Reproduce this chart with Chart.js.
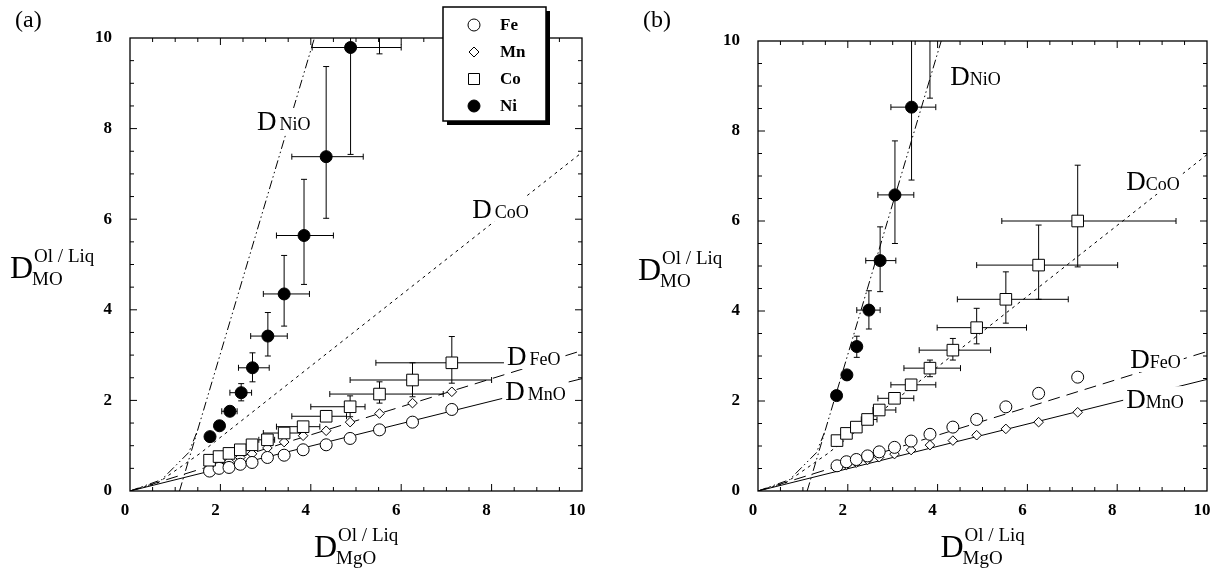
<!DOCTYPE html>
<html>
<head>
<meta charset="utf-8">
<script src="https://cdn.jsdelivr.net/npm/chart.js"></script>
<style>
  body { margin: 0; background: #fff; width: 1217px; height: 576px; position: relative; overflow: hidden; }
  canvas { position: absolute; top: 0; }
  #chartA { left: 0; }
  #chartB { left: 608px; }
</style>
</head>
<body>
<canvas id="chartA" width="608" height="576"></canvas>
<canvas id="chartB" width="622" height="576"></canvas>
<script>
// D(MgO) values shared by the Fe, Mn and Co series in both panels
const xMgO = [1.76, 1.97, 2.19, 2.44, 2.70, 3.04, 3.41, 3.83, 4.34, 4.87, 5.52, 6.25, 7.12];

// panel (a)
const feA = [0.44, 0.50, 0.52, 0.59, 0.63, 0.74, 0.79, 0.91, 1.02, 1.16, 1.35, 1.52, 1.80];
const mnA = [0.55, 0.60, 0.65, 0.74, 0.82, 0.95, 1.08, 1.22, 1.33, 1.52, 1.71, 1.94, 2.19];
const coA = [0.68, 0.76, 0.83, 0.91, 1.02, 1.13, 1.28, 1.42, 1.65, 1.86, 2.14, 2.45, 2.83];
const coAxLo = [null, null, null, null, null, 2.85, 2.95, 3.24, 3.58, 4.00, 4.42, 4.87, 5.44];
const coAxHi = [null, null, null, null, null, 3.20, 3.76, 4.20, 4.79, 5.20, 6.93, 8.00, 8.35];
const coAyLo = [null, null, null, null, null, null, null, null, null, 1.64, 1.94, 2.08, 2.38];
const coAyHi = [null, null, null, null, null, null, null, null, null, 2.10, 2.41, 2.83, 3.41];
const niAx = [1.77, 1.98, 2.21, 2.46, 2.71, 3.05, 3.41, 3.85, 4.34, 4.88, 5.52];
const niA = [1.20, 1.44, 1.76, 2.17, 2.72, 3.42, 4.35, 5.64, 7.38, 9.79, 10.9];
const niAxLo = [null, null, 2.03, 2.21, 2.40, 2.67, 2.95, 3.24, 3.58, 4.03, null];
const niAxHi = [null, null, 2.37, 2.69, 3.08, 3.48, 3.97, 4.50, 5.16, 6.00, null];
const niAyLo = [null, null, null, 1.99, 2.41, 2.98, 3.64, 4.56, 6.02, 7.43, 9.65];
const niAyHi = [null, null, null, 2.37, 3.05, 3.94, 5.20, 6.88, 9.37, 10.3, 12.0];

// panel (b)
const feB = [0.56, 0.65, 0.70, 0.78, 0.87, 0.97, 1.11, 1.26, 1.42, 1.59, 1.87, 2.17, 2.53];
const mnB = [0.53, 0.58, 0.63, 0.69, 0.75, 0.82, 0.91, 1.02, 1.12, 1.24, 1.38, 1.53, 1.75];
const coB = [1.12, 1.28, 1.42, 1.59, 1.80, 2.06, 2.36, 2.73, 3.13, 3.63, 4.26, 5.02, 6.00];
const coBxLo = [null, null, null, 2.30, 2.56, 2.67, 2.96, 3.25, 3.59, 3.99, 4.44, 4.87, 5.43];
const coBxHi = [null, null, null, 2.65, 3.07, 3.47, 3.96, 4.51, 5.18, 5.98, 6.91, 8.01, 9.31];
const coByLo = [null, null, null, null, null, null, null, 2.54, 2.91, 3.27, 3.73, 4.26, 4.98];
const coByHi = [null, null, null, null, null, null, null, 2.91, 3.39, 4.06, 4.87, 5.91, 7.24];
const niBx = [1.75, 1.98, 2.20, 2.47, 2.72, 3.05, 3.42, 3.83];
const niB = [2.12, 2.58, 3.21, 4.02, 5.12, 6.58, 8.53, 10.9];
const niBxLo = [null, null, null, 2.20, 2.40, 2.67, 2.96, null];
const niBxHi = [null, null, null, 2.72, 3.07, 3.47, 3.96, null];
const niByLo = [null, null, 2.97, 3.60, 4.43, 5.50, 6.91, 8.73];
const niByHi = [null, null, 3.44, 4.45, 5.87, 7.78, 10.5, 12.0];

// partition lines (same in both panels)
const niOx = [1.095, 4.08];
const niOy = [0, 10];
const niOlowX = [0, 0.7, 1.3, 1.5];
const niOlowY = [0, 0.25, 0.85, 1.35];
const coOx = [0, 0.6, 1.55, 10];
const coOy = [0, 0.17, 0.83, 7.475];
const feOx = [0, 10];
const feOy = [0, 3.1];
const mnOx = [0, 10];
const mnOy = [0, 2.48];

// line labels
const labelNames = ['NiO', 'CoO', 'FeO', 'MnO'];
const labelAx = [2.81, 7.57, 8.34, 8.30];
const labelAy = [7.97, 6.03, 2.78, 2.01];
const labelBx = [4.28, 8.20, 8.29, 8.20];
const labelBy = [9.02, 6.69, 2.73, 1.84];

// legend
const legendNames = ['Fe', 'Mn', 'Co', 'Ni'];
const tickValues = [0, 2, 4, 6, 8, 10];

const SERIF = '"Liberation Serif", "Times New Roman", serif';

const pts = (xs, ys) => xs.map((x, i) => ({ x: x, y: ys[i] }));

function lineSet(xs, ys, dash) {
  return {
    data: pts(xs, ys), showLine: true, pointRadius: 0, borderColor: '#000',
    borderWidth: 1, borderDash: dash, fill: false, tension: 0, order: 10
  };
}

function markSet(xs, ys, style, r, fill, ord, err) {
  return {
    data: pts(xs, ys), pointStyle: style, pointRadius: r,
    pointBackgroundColor: fill, pointBorderColor: '#000', pointBorderWidth: 1,
    order: ord, errorBars: err
  };
}

// error bars drawn under the markers
const errorBars = {
  id: 'errorBars',
  beforeDatasetsDraw(chart) {
    const { ctx, chartArea: a, scales: { x, y } } = chart;
    ctx.save();
    ctx.beginPath();
    ctx.rect(a.left, a.top, a.right - a.left, a.bottom - a.top);
    ctx.clip();
    ctx.strokeStyle = '#000';
    ctx.lineWidth = 1;
    chart.data.datasets.forEach(ds => {
      const e = ds.errorBars;
      if (!e) return;
      ds.data.forEach((p, i) => {
        const px = x.getPixelForValue(p.x), py = y.getPixelForValue(p.y);
        ctx.beginPath();
        if (e.xLo[i] != null) {
          const l = x.getPixelForValue(e.xLo[i]), r = x.getPixelForValue(e.xHi[i]);
          ctx.moveTo(l, py); ctx.lineTo(r, py);
          ctx.moveTo(l, py - 3); ctx.lineTo(l, py + 3);
          ctx.moveTo(r, py - 3); ctx.lineTo(r, py + 3);
        }
        if (e.yLo[i] != null) {
          const b = y.getPixelForValue(e.yLo[i]), t = y.getPixelForValue(e.yHi[i]);
          ctx.moveTo(px, b); ctx.lineTo(px, t);
          ctx.moveTo(px - 3, b); ctx.lineTo(px + 3, b);
          ctx.moveTo(px - 3, t); ctx.lineTo(px + 3, t);
        }
        ctx.stroke();
      });
    });
    ctx.restore();
  }
};

// box with inward ticks on all four sides
const frame = {
  id: 'frame',
  afterDraw(chart) {
    const { ctx, chartArea: a, scales: { x, y } } = chart;
    ctx.save();
    ctx.strokeStyle = '#000';
    ctx.lineWidth = 1.3;
    ctx.strokeRect(a.left, a.top, a.right - a.left, a.bottom - a.top);
    ctx.lineWidth = 1;
    ctx.beginPath();
    for (let v = 0.5; v < 10; v += 0.5) {
      const len = v % 2 === 0 ? 7 : 4;
      const px = x.getPixelForValue(v), py = y.getPixelForValue(v);
      ctx.moveTo(px, a.bottom); ctx.lineTo(px, a.bottom - len);
      ctx.moveTo(px, a.top); ctx.lineTo(px, a.top + len);
      ctx.moveTo(a.left, py); ctx.lineTo(a.left + len, py);
      ctx.moveTo(a.right, py); ctx.lineTo(a.right - len, py);
    }
    ctx.stroke();
    ctx.restore();
  }
};

function drawD(ctx, x, base, sub) {
  ctx.font = '32px ' + SERIF;
  ctx.fillText('D', x, base);
  const w = ctx.measureText('D').width;
  ctx.font = '19px ' + SERIF;
  ctx.fillText('Ol / Liq', x + w + 1, base - 16);
  ctx.fillText(sub, x + w - 1, base + 7);
}

function titles(letter) {
  return {
    id: 'titles',
    afterDraw(chart) {
      const { ctx, chartArea: a } = chart;
      ctx.save();
      ctx.fillStyle = '#000';
      ctx.textBaseline = 'alphabetic';
      ctx.font = '24px ' + SERIF;
      ctx.fillText(letter, a.left - 115, 27);
      drawD(ctx, a.left - 120, (a.top + a.bottom) / 2 + 13.5, 'MO');
      drawD(ctx, (a.left + a.right) / 2 - 42, 557, 'MgO');
      ctx.restore();
    }
  };
}

function lineLabels(xs, ys, gap) {
  return {
    id: 'lineLabels',
    afterDatasetsDraw(chart) {
      const { ctx, scales: { x, y } } = chart;
      ctx.save();
      ctx.textBaseline = 'alphabetic';
      xs.forEach((lx, i) => {
        const px = x.getPixelForValue(lx), py = y.getPixelForValue(ys[i]);
        ctx.font = '27px ' + SERIF;
        const dw = ctx.measureText('D').width;
        ctx.font = '18px ' + SERIF;
        const sw = ctx.measureText(labelNames[i]).width;
        ctx.fillStyle = '#fff';
        ctx.fillRect(px - 3, py - 22, dw + gap + sw + 6, 26);
        ctx.fillStyle = '#000';
        ctx.font = '27px ' + SERIF;
        ctx.fillText('D', px, py);
        ctx.font = '18px ' + SERIF;
        ctx.fillText(labelNames[i], px + dw + gap, py);
      });
      ctx.restore();
    }
  };
}

const legendBox = {
  id: 'legendBox',
  afterDraw(chart) {
    const { ctx, chartArea: a } = chart;
    const bx = a.left + 313, by = 7, bw = 103, bh = 114;
    ctx.save();
    ctx.fillStyle = '#000';
    ctx.fillRect(bx + 4, by + 4, bw, bh);
    ctx.fillStyle = '#fff';
    ctx.fillRect(bx, by, bw, bh);
    ctx.strokeStyle = '#000';
    ctx.lineWidth = 1.5;
    ctx.strokeRect(bx, by, bw, bh);
    ctx.lineWidth = 1;
    legendNames.forEach((name, i) => {
      const cx = bx + 31, cy = by + 18 + i * 27;
      ctx.beginPath();
      if (i === 0) ctx.arc(cx, cy, 6, 0, Math.PI * 2);
      if (i === 1) { ctx.moveTo(cx, cy - 5); ctx.lineTo(cx + 5, cy); ctx.lineTo(cx, cy + 5); ctx.lineTo(cx - 5, cy); ctx.closePath(); }
      if (i === 2) ctx.rect(cx - 5.5, cy - 5.5, 11, 11);
      if (i === 3) ctx.arc(cx, cy, 6, 0, Math.PI * 2);
      ctx.fillStyle = i === 3 ? '#000' : '#fff';
      ctx.fill();
      ctx.stroke();
      ctx.fillStyle = '#000';
      ctx.font = 'bold 17px ' + SERIF;
      ctx.textBaseline = 'middle';
      ctx.fillText(name, bx + 57, cy + 1);
    });
    ctx.restore();
  }
};

function panel(id, d, yWidth, padRight, extra) {
  const tickFont = { family: SERIF, size: 17, weight: 'bold' };
  return new Chart(document.getElementById(id), {
    type: 'scatter',
    data: {
      datasets: [
        lineSet(niOx, niOy, [9, 3, 1.5, 3, 1.5, 3]),
        lineSet(niOlowX, niOlowY, [9, 3, 1.5, 3, 1.5, 3]),
        lineSet(coOx, coOy, [3, 4]),
        lineSet(feOx, feOy, [12, 7]),
        lineSet(mnOx, mnOy, []),
        markSet(xMgO, d.mn, 'rectRot', 4.8, '#fff', 4, null),
        markSet(xMgO, d.fe, 'circle', 6, '#fff', 3, null),
        markSet(xMgO, d.co, 'rect', 8.2, '#fff', 2, d.coErr),
        markSet(d.niX, d.ni, 'circle', 6, '#000', 1, d.niErr)
      ]
    },
    options: {
      responsive: false,
      animation: false,
      events: [],
      layout: { padding: { left: 0, right: padRight, top: 576 - 535 + (d.top - 41), bottom: 40 } },
      plugins: { legend: { display: false }, tooltip: { enabled: false } },
      scales: {
        x: {
          type: 'linear', min: 0, max: 10,
          afterFit: s => { s.height = 45; },
          grid: { display: false, drawTicks: false },
          border: { display: false },
          ticks: {
            stepSize: 2, padding: 9, labelOffset: -5, color: '#000', font: tickFont,
            maxRotation: 0, autoSkip: false
          },
          afterBuildTicks: s => { s.ticks = tickValues.map(v => ({ value: v })); }
        },
        y: {
          type: 'linear', min: 0, max: 10,
          afterFit: s => { s.width = yWidth; },
          grid: { display: false, drawTicks: false },
          border: { display: false },
          ticks: { stepSize: 2, padding: 18, color: '#000', font: tickFont },
          afterBuildTicks: s => { s.ticks = tickValues.map(v => ({ value: v })); }
        }
      }
    },
    plugins: [errorBars, frame].concat(extra)
  });
}

panel('chartA', {
  top: 38,
  fe: feA, mn: mnA, co: coA, niX: niAx, ni: niA,
  coErr: { xLo: coAxLo, xHi: coAxHi, yLo: coAyLo, yHi: coAyHi },
  niErr: { xLo: niAxLo, xHi: niAxHi, yLo: niAyLo, yHi: niAyHi }
}, 130, 26, [lineLabels(labelAx, labelAy, 3), titles('(a)'), legendBox]);

panel('chartB', {
  top: 41,
  fe: feB, mn: mnB, co: coB, niX: niBx, ni: niB,
  coErr: { xLo: coBxLo, xHi: coBxHi, yLo: coByLo, yHi: coByHi },
  niErr: { xLo: niBxLo, xHi: niBxHi, yLo: niByLo, yHi: niByHi }
}, 150, 23, [lineLabels(labelBx, labelBy, 0), titles('(b)')]);
</script>
</body>
</html>
